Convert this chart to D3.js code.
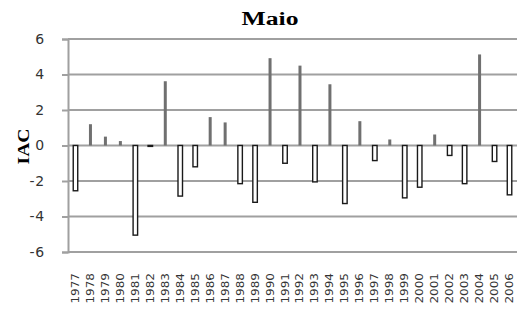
<!DOCTYPE html>
<html><head><meta charset="utf-8">
<script src="https://cdn.jsdelivr.net/npm/d3@7"></script>
<style>body{margin:0;background:#fff}</style>
</head><body><svg id="c" width="520" height="309"></svg>
<script>
const years = ["1977","1978","1979","1980","1981","1982","1983","1984","1985","1986","1987","1988","1989","1990","1991","1992","1993","1994","1995","1996","1997","1998","1999","2000","2001","2002","2003","2004","2005","2006"];
const iac = [-2.55,1.2,0.5,0.25,-5.05,-0.05,3.62,-2.85,-1.2,1.6,1.3,-2.15,-3.2,4.92,-1.0,4.5,-2.05,3.45,-3.27,1.37,-0.85,0.34,-2.95,-2.35,0.62,-0.56,-2.15,5.13,-0.9,-2.78];
const yTicks = [-6,-4,-2,0,2,4,6];
const title = "Maio", yTitle = "IAC";

const svg = d3.select("#c");
const L = 68, R = 517, T = 39, B = 252;
const x = d3.scaleBand().domain(years).range([L, R]);
const y = d3.scaleLinear().domain([-6, 6]).range([B, T]);

// gridlines
svg.append("g").selectAll("line").data(yTicks).join("line")
  .attr("x1", L).attr("x2", R).attr("y1", d => y(d)).attr("y2", d => y(d))
  .attr("stroke", "#a0a0a0").attr("stroke-width", 2);

// y axis
const ya = svg.append("g").attr("transform", `translate(${L},0)`)
  .call(d3.axisLeft(y).tickValues(yTicks).tickSize(6).tickPadding(17).tickFormat(d3.format("d")));
ya.select(".domain").attr("stroke", "#a0a0a0").attr("stroke-width", 2);
ya.selectAll(".tick line").attr("stroke", "#a0a0a0").attr("stroke-width", 2);
ya.selectAll("text").attr("font-family", "DejaVu Sans, sans-serif").attr("font-size", 14).attr("fill", "#333")
  .attr("letter-spacing", 0.8)
  .text(d => d < 0 ? "-" + Math.abs(d) : d);

// bars
const data = years.map((yr, i) => ({yr, v: iac[i]}));
svg.append("g").selectAll("rect").data(data).join("rect")
  .attr("x", d => x(d.yr) + x.bandwidth() / 2 - (d.v < 0 ? 2.25 : 1.5))
  .attr("width", d => d.v < 0 ? 4.5 : 3)
  .attr("y", d => y(Math.max(0, d.v)))
  .attr("height", d => Math.abs(y(d.v) - y(0)))
  .attr("fill", d => d.v < 0 ? "#fff" : "#707070")
  .attr("stroke", d => d.v < 0 ? "#1a1a1a" : "none")
  .attr("stroke-width", 1.4);

// x labels
svg.append("g").selectAll("text").data(years).join("text")
  .attr("transform", d => `translate(${x(d) + x.bandwidth() / 2 + 3.5},273) rotate(-90)`)
  .attr("text-anchor", "end")
  .attr("font-family", "DejaVu Sans, sans-serif").attr("font-size", 9.6).attr("fill", "#333")
  .attr("textLength", 30.5).attr("lengthAdjust", "spacingAndGlyphs")
  .text(d => d);

// titles
svg.append("text").attr("x", 270).attr("y", 25).attr("text-anchor", "middle")
  .attr("font-family", "Liberation Serif, serif").attr("font-weight", "bold").attr("font-size", 18)
  .attr("textLength", 57).attr("lengthAdjust", "spacingAndGlyphs")
  .text(title);
svg.append("text").attr("transform", "translate(28.5,146.5) rotate(-90)").attr("text-anchor", "middle")
  .attr("font-family", "Liberation Serif, serif").attr("font-weight", "bold").attr("font-size", 17)
  .attr("textLength", 36).attr("lengthAdjust", "spacingAndGlyphs")
  .text(yTitle);
</script></body></html>
